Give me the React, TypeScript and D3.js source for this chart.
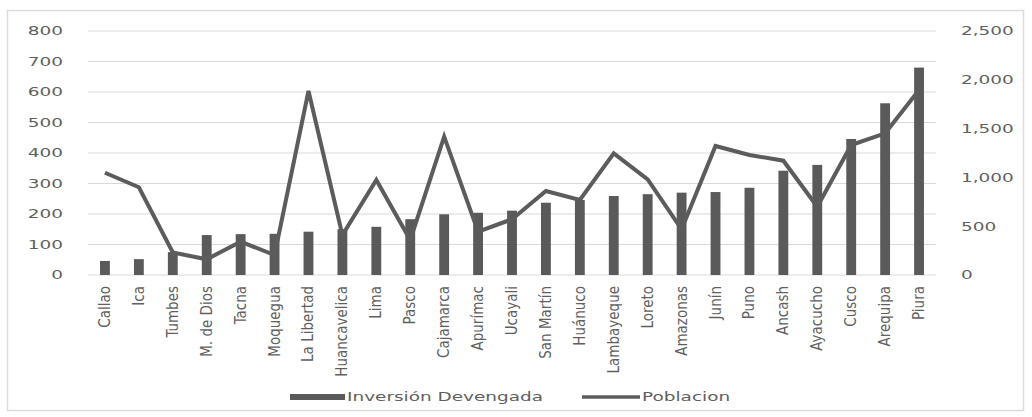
import React from "react";
import * as d3 from "d3";

const categories = [
  "Callao", "Ica", "Tumbes", "M. de Dios", "Tacna", "Moquegua", "La Libertad",
  "Huancavelica", "Lima", "Pasco", "Cajamarca", "Apurímac", "Ucayali",
  "San Martín", "Huánuco", "Lambayeque", "Loreto", "Amazonas", "Junín",
  "Puno", "Ancash", "Ayacucho", "Cusco", "Arequipa", "Piura",
];
const inversion = [
  46, 52, 75, 131, 134, 135, 142, 150, 158, 183, 199, 204, 211, 237, 246,
  259, 265, 270, 272, 286, 342, 361, 446, 563, 680,
];
const poblacion = [
  1048, 899, 232, 161, 341, 205, 1885, 410, 973, 359, 1417, 444, 571, 861,
  768, 1247, 980, 468, 1322, 1230, 1171, 700, 1332, 1452, 1895,
];
const leftTicks = [0, 100, 200, 300, 400, 500, 600, 700, 800];
const rightTicks = [0, 500, 1000, 1500, 2000, 2500];

const W = 1032;
const H = 417;
const plotLeft = 88;
const plotRight = 936;
const plotTop = 31;
const plotBottom = 275;
const barColor = "#5a5a5a";
const lineColor = "#5c5c5c";
const textColor = "#5f5f5f";
const gridColor = "#d9d9d9";
const wideScale = 1.42;
const wideFont = "'DejaVu Sans', Verdana, sans-serif";
const narrowFont = "'Liberation Sans Narrow', 'DejaVu Sans Condensed', 'Arial Narrow', sans-serif";

export default function App() {
  const x = d3.scalePoint<string>().domain(categories).range([plotLeft, plotRight]).padding(0.5);
  const yL = d3.scaleLinear().domain([0, 800]).range([plotBottom, plotTop]);
  const yR = d3.scaleLinear().domain([0, 2500]).range([plotBottom, plotTop]);
  const barW = x.step() * 0.29;
  const fmt = d3.format(",");
  const line = d3
    .line<number>()
    .x((_, i) => x(categories[i]) as number)
    .y((d) => yR(d));

  return (
    <svg
      width={W}
      height={H}
      style={{ position: "absolute", left: 0, top: 0, background: "#fff" }}
    >
      <rect x={0} y={0} width={W} height={H} fill="#fff" />
      <rect x={7.5} y={10.5} width={1016} height={400} fill="none" stroke="#dcdcdc" strokeWidth={1.5} />
      {leftTicks.map((t) => (
        <line key={"g" + t} x1={plotLeft} x2={plotRight} y1={yL(t)} y2={yL(t)} stroke={gridColor} strokeWidth={1} />
      ))}
      {leftTicks.map((t) => (
        <text
          key={"l" + t}
          transform={`translate(63,${yL(t)}) scale(${wideScale},1)`}
          textAnchor="end"
          dominantBaseline="central"
          fontFamily={wideFont}
          fontSize={13}
          fill={textColor}
        >
          {t}
        </text>
      ))}
      {rightTicks.map((t) => (
        <text
          key={"r" + t}
          transform={`translate(961,${yR(t)}) scale(${wideScale},1)`}
          textAnchor="start"
          dominantBaseline="central"
          fontFamily={wideFont}
          fontSize={13}
          fill={textColor}
        >
          {fmt(t)}
        </text>
      ))}
      {categories.map((c, i) => (
        <rect
          key={"b" + c}
          x={(x(c) as number) - barW / 2}
          y={yL(inversion[i])}
          width={barW}
          height={plotBottom - yL(inversion[i])}
          fill={barColor}
        />
      ))}
      <path d={line(poblacion) || ""} fill="none" stroke={lineColor} strokeWidth={4} strokeLinejoin="miter" />
      {categories.map((c) => (
        <text
          key={"x" + c}
          transform={`translate(${x(c)},286) rotate(-90)`}
          textAnchor="end"
          dominantBaseline="central"
          fontFamily={narrowFont}
          fontSize={15}
          fill={textColor}
        >
          {c}
        </text>
      ))}
      <rect x={290} y={394} width={55} height={6} fill={barColor} />
      <text
        transform={`translate(347,397) scale(${wideScale},1)`}
        dominantBaseline="central"
        fontFamily={wideFont}
        fontSize={13}
        fill={textColor}
      >
        Inversión Devengada
      </text>
      <line x1={582} x2={640} y1={397} y2={397} stroke={lineColor} strokeWidth={3.5} />
      <text
        transform={`translate(642,397) scale(${wideScale},1)`}
        dominantBaseline="central"
        fontFamily={wideFont}
        fontSize={13}
        fill={textColor}
      >
        Poblacion
      </text>
    </svg>
  );
}
